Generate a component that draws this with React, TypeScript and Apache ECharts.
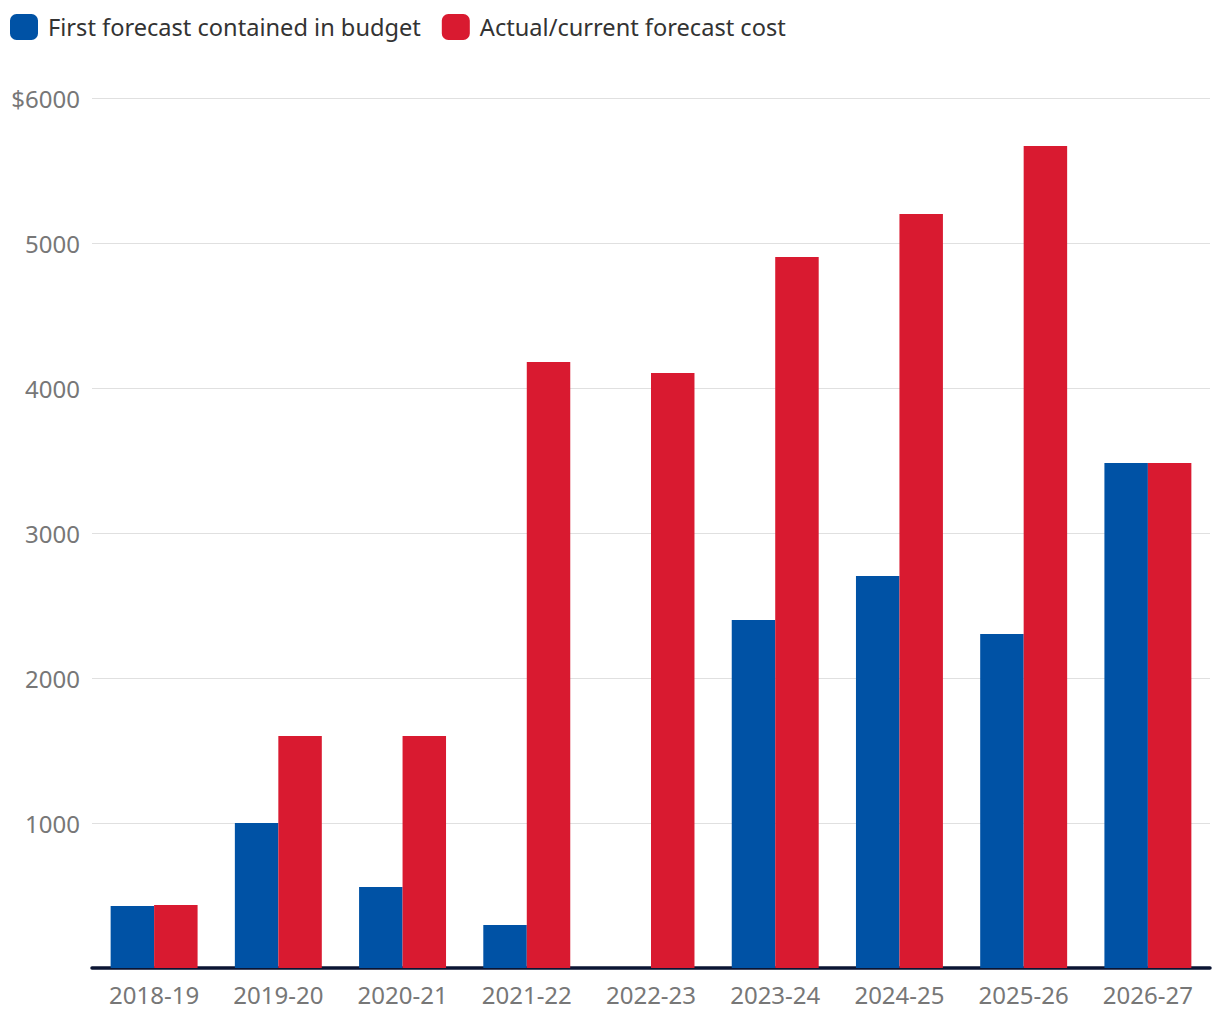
import React, { useEffect, useRef } from "react";
import * as echarts from "echarts";

const categories = ["2018-19", "2019-20", "2020-21", "2021-22", "2022-23", "2023-24", "2024-25", "2025-26", "2026-27"];
const firstForecast = [428, 1000, 559, 297, 0, 2400, 2703, 2303, 3483];
const actualForecast = [434, 1600, 1600, 4179, 4103, 4903, 5200, 5669, 3483];
const seriesNames = ["First forecast contained in budget", "Actual/current forecast cost"];

const FONT = "'Noto Sans', sans-serif";

export default function App() {
  const ref = useRef<HTMLDivElement>(null);
  useEffect(() => {
    const chart = echarts.init(ref.current!, null, { renderer: "svg" });
    chart.setOption({
      animation: false,
      legend: {
        left: 10,
        top: 14,
        padding: 0,
        itemWidth: 28,
        itemHeight: 26,
        itemGap: 21,
        icon: "roundRect",
        textStyle: { fontFamily: FONT, fontSize: 23.6, color: "#333", padding: [0, 0, 0, 5] },
        data: seriesNames,
      },
      grid: { left: 92, right: 10, top: 98, bottom: 52, containLabel: false },
      xAxis: {
        type: "category",
        data: categories,
        axisLine: { show: true, lineStyle: { color: "#0b1533", width: 3.5 } },
        axisTick: { show: false },
        axisLabel: { fontFamily: FONT, fontSize: 24, color: "#777", margin: 14 },
      },
      yAxis: {
        type: "value",
        min: 0,
        max: 6000,
        interval: 1000,
        axisLine: { show: false },
        axisTick: { show: false },
        splitLine: { lineStyle: { color: "#e0e0e0", width: 1 } },
        axisLabel: {
          fontFamily: FONT,
          fontSize: 24,
          color: "#777",
          margin: 12,
          formatter: (v: number) => (v === 0 ? "" : v === 6000 ? "$" + v : String(v)),
        },
      },
      series: [
        {
          name: seriesNames[0],
          type: "bar",
          data: firstForecast,
          itemStyle: { color: "#0052a5" },
          barGap: "0%",
          barCategoryGap: "30%",
        },
        {
          name: seriesNames[1],
          type: "bar",
          data: actualForecast,
          itemStyle: { color: "#d91a30" },
          barGap: "0%",
          barCategoryGap: "30%",
        },
      ],
    });
    return () => chart.dispose();
  }, []);
  return <div ref={ref} style={{ width: 1220, height: 1020, margin: -8 }} />;
}
